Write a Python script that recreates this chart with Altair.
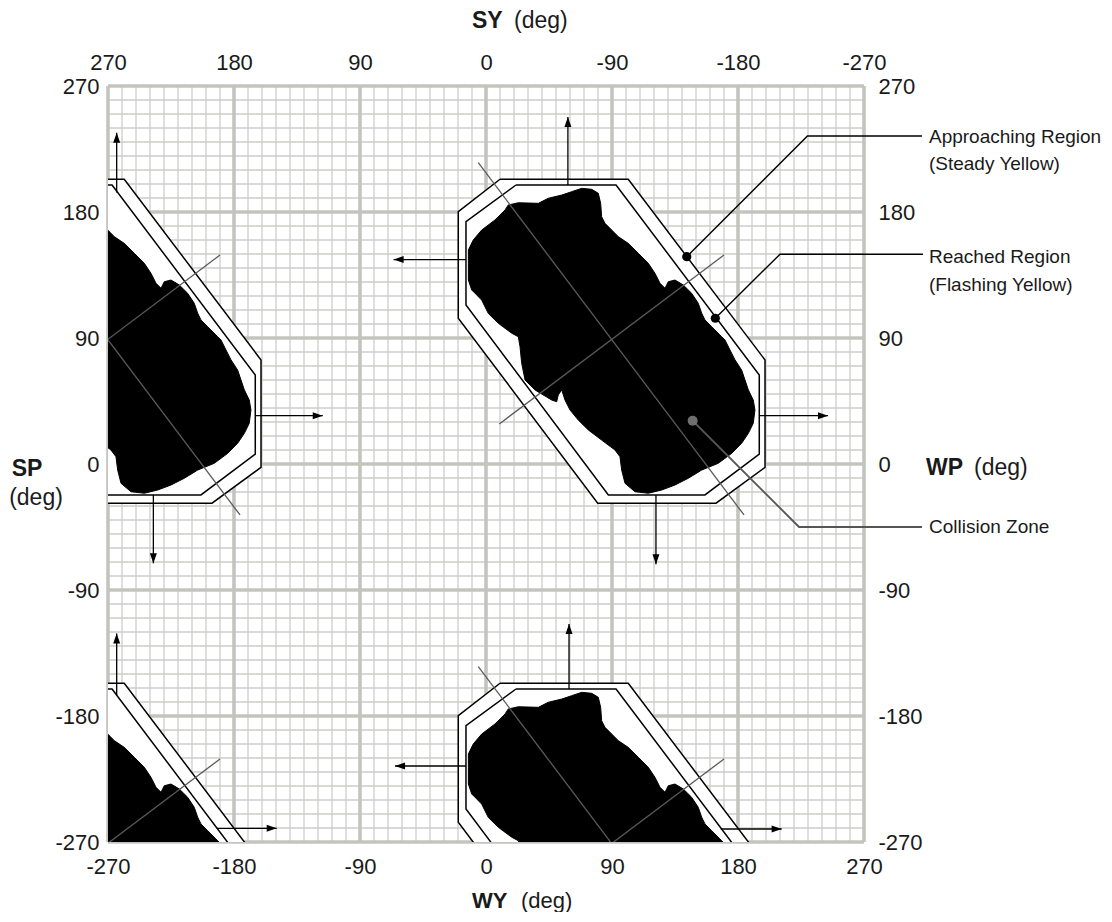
import altair as alt
import pandas as pd

# ---------------- data (degrees) ----------------
AXIS_TICKS = [-270, -180, -90, 0, 90, 180, 270]
MINOR_GRID = [v for v in range(-260, 270, 10) if v % 90 != 0]
MAJOR_GRID = [-270, -180, -90, 0, 90, 180, 270]

# centres (WY, WP) of the repeated collision pattern
CENTER_WY = [-270, 90, -270, 90]
CENTER_WP = [90, 90, -270, -270]

# Approaching region (outer octagon), offsets from centre
APPROACH_DX = [-80.0, 11.6, 109.3, 109.3, 74.3, -10.2, -109.8, -109.8]
APPROACH_DY = [113.4, 113.4, -15.7, -92.4, -118.0, -118.0, 14.1, 90.2]
# Reached region (inner octagon)
REACHED_DX = [-68.6, 2.9, 105.2, 105.2, 66.4, -2.6, -104.3, -104.3]
REACHED_DY = [109.3, 109.3, -26.4, -82.9, -112.1, -112.1, 23.6, 83.1]
# Collision zone outline
ZONE_DX = [-102.6, -102.6, -99.1, -93.1, -83.6, -76.4, -74.1, -66.9, -52.6, -45.5,
           -35.9, -28.8, -21.6, -14.5, -9.8, -8.1, -7.4, -5.0, 4.5, 11.6,
           18.8, 25.9, 30.7, 34.3, 37.9, 40.2, 45.0, 50.9, 56.9, 61.6,
           64.1, 66.4, 71.2, 78.4, 80.7, 84.3, 87.9, 92.6, 95.0, 97.4,
           100.9, 102.1, 100.9, 97.4, 92.6, 85.5, 75.9, 64.1, 54.5, 45.0,
           35.5, 25.9, 16.4, 9.3, 6.9, 5.7, 2.1, -7.4, -16.9, -24.1,
           -30.0, -33.6, -35.9, -38.4, -39.5, -43.1, -55.0, -62.1, -64.5, -65.7,
           -66.9, -71.6, -81.2, -88.4, -93.1, -96.6, -100.2, -102.6]
ZONE_DY = [53.4, 62.9, 70.0, 77.1, 84.3, 91.4, 95.0, 96.6, 96.2, 99.8,
           102.1, 104.5, 106.9, 106.2, 103.4, 96.2, 86.6, 81.9, 72.4, 67.6,
           60.5, 53.4, 46.2, 39.1, 35.5, 40.2, 41.4, 37.9, 31.9, 24.8,
           17.6, 12.9, 8.1, 0.9, -1.4, -8.6, -15.7, -22.9, -30.0, -37.1,
           -44.3, -51.4, -60.9, -68.1, -75.2, -82.4, -89.5, -94.3, -100.2, -105.0,
           -108.6, -110.9, -109.8, -103.8, -94.3, -84.8, -80.0, -72.9, -65.7, -58.6,
           -51.4, -44.3, -37.1, -40.7, -45.5, -44.3, -37.1, -30.0, -18.1, -6.2,
           0.9, 3.4, 10.5, 17.6, 27.1, 30.7, 34.3, 41.4]
# two diagonal reference lines through each centre
DIAG_DX1 = [-95.5, -80.5]
DIAG_DY1 = [125.2, -61.4]
DIAG_DX2 = [94.3, 80.0]
DIAG_DY2 = [-126.4, 59.3]

# arrows (tail -> tip), absolute degrees, with head direction
ARROW_X1 = [58.5, -14.3, 195.2, 121.4, -263.8, -164.8, -237.6, -263.8, -192.3, 59.3, -14.3, 167.7]
ARROW_Y1 = [199.3, 146.0, 34.5, -22.1, 194.0, 34.5, -22.1, -165.1, -260.2, -160.7, -215.7, -260.7]
ARROW_X2 = [58.5, -66.0, 244.3, 121.4, -263.8, -116.6, -237.6, -263.8, -149.5, 59.3, -65.0, 211.2]
ARROW_Y2 = [247.9, 146.0, 34.5, -71.6, 236.6, 34.5, -70.9, -121.0, -260.2, -114.3, -215.7, -260.7]
ARROW_ANGLE = [0, 270, 90, 180, 0, 90, 180, 0, 90, 0, 270, 90]

# call-outs
CALLOUT_NAME = ["approach", "approach", "approach", "reached", "reached", "reached",
                "zone", "zone", "zone"]
CALLOUT_X = [143.4, 229.6, 311.4, 163.8, 210.0, 312.1, 147.6, 223.6, 311.4]
CALLOUT_Y = [148.1, 234.3, 234.3, 104.1, 149.8, 149.8, 30.9, -45.0, -45.0]
LABEL_TEXT = ["Approaching Region", "(Steady Yellow)", "Reached Region",
              "(Flashing Yellow)", "Collision Zone"]
LABEL_X = [316.4, 316.4, 316.4, 316.4, 316.4]
LABEL_Y = [233.6, 214.3, 148.1, 127.9, -45.0]

# ---------------- tables ----------------
def polygons(name, dxs, dys):
    rows = []
    for k, (cx, cy) in enumerate(zip(CENTER_WY, CENTER_WP)):
        pts = list(zip(dxs, dys)) + [(dxs[0], dys[0])]
        for i, (dx, dy) in enumerate(pts):
            rows.append({"id": f"{name}{k}", "i": i, "x": cx + dx, "y": cy + dy})
    return pd.DataFrame(rows)

outer_df = polygons("outer", APPROACH_DX, APPROACH_DY)
inner_df = polygons("inner", REACHED_DX, REACHED_DY)
zone_df = polygons("zone", ZONE_DX, ZONE_DY)

diag_rows = []
for cx, cy in zip(CENTER_WY, CENTER_WP):
    for a, b, c, d in zip(DIAG_DX1, DIAG_DY1, DIAG_DX2, DIAG_DY2):
        diag_rows.append({"x": cx + a, "y": cy + b, "x2": cx + c, "y2": cy + d})
diag_df = pd.DataFrame(diag_rows)

arrow_df = pd.DataFrame({"x": ARROW_X1, "y": ARROW_Y1, "x2": ARROW_X2,
                         "y2": ARROW_Y2, "a": ARROW_ANGLE})
HEAD_BACK = 3.6
head_rows = []
for x2, y2, a in zip(ARROW_X2, ARROW_Y2, ARROW_ANGLE):
    dx = {0: 0, 90: -HEAD_BACK, 180: 0, 270: HEAD_BACK}[a]
    dy = {0: -HEAD_BACK, 90: 0, 180: HEAD_BACK, 270: 0}[a]
    head_rows.append({"x": x2 + dx, "y": y2 + dy, "a": a})
head_df = pd.DataFrame(head_rows)

callout_df = pd.DataFrame({"id": CALLOUT_NAME, "x": CALLOUT_X, "y": CALLOUT_Y,
                           "i": list(range(len(CALLOUT_X)))})
label_df = pd.DataFrame({"t": LABEL_TEXT, "x": LABEL_X, "y": LABEL_Y})

# ---------------- encodings ----------------
XS = alt.Scale(domain=[-270, 270], nice=False, zero=False)
YS = alt.Scale(domain=[-270, 270], nice=False, zero=False)


def X(f="x"):
    return alt.X(f"{f}:Q", scale=XS, axis=None)


def Y(f="y"):
    return alt.Y(f"{f}:Q", scale=YS, axis=None)


FONT = "Liberation Sans"
INK = "#1a1a1a"
MINOR_COLOR = "#cdcdc9"
MAJOR_COLOR = "#c4c4bf"

minor_x = alt.Chart(pd.DataFrame({"v": MINOR_GRID})).mark_rule(
    color=MINOR_COLOR, strokeWidth=1.3).encode(x=alt.X("v:Q", scale=XS, axis=None))
minor_y = alt.Chart(pd.DataFrame({"v": MINOR_GRID})).mark_rule(
    color=MINOR_COLOR, strokeWidth=1.3).encode(y=alt.Y("v:Q", scale=YS, axis=None))
major_x = alt.Chart(pd.DataFrame({"v": MAJOR_GRID})).mark_rule(
    color=MAJOR_COLOR, strokeWidth=3.6).encode(x=alt.X("v:Q", scale=XS, axis=None))
major_y = alt.Chart(pd.DataFrame({"v": MAJOR_GRID})).mark_rule(
    color=MAJOR_COLOR, strokeWidth=3.6).encode(y=alt.Y("v:Q", scale=YS, axis=None))

outer = alt.Chart(outer_df).mark_line(
    fill="white", stroke="black", strokeWidth=1.5, clip=True, strokeJoin="miter"
).encode(x=X(), y=Y(), order="i:Q", detail="id:N")
inner = alt.Chart(inner_df).mark_line(
    stroke="black", strokeWidth=1.5, clip=True, strokeJoin="miter"
).encode(x=X(), y=Y(), order="i:Q", detail="id:N")
zone = alt.Chart(zone_df).mark_line(
    fill="black", stroke="black", strokeWidth=1, clip=True, interpolate="linear"
).encode(x=X(), y=Y(), order="i:Q", detail="id:N")

diag = alt.Chart(diag_df).mark_rule(color="#5a5a5a", strokeWidth=1.3, clip=True).encode(
    x=X(), y=Y(), x2="x2:Q", y2="y2:Q")

shafts = alt.Chart(arrow_df).mark_rule(color="black", strokeWidth=1.3, clip=True).encode(
    x=X(), y=Y(), x2="x2:Q", y2="y2:Q")
heads = alt.Chart(head_df).mark_point(
    shape="M0,-1L0.7,1L-0.7,1Z", filled=True, color="black", opacity=1, size=100, clip=True
).encode(x=X(), y=Y(), angle=alt.Angle("a:Q", scale=None))

leader_black = alt.Chart(callout_df).transform_filter(
    alt.datum.id != "zone").mark_line(color="black", strokeWidth=1.4).encode(
    x=X(), y=Y(), order="i:Q", detail="id:N")
leader_grey = alt.Chart(callout_df).transform_filter(
    alt.datum.id == "zone").mark_line(color="#555555", strokeWidth=1.8).encode(
    x=X(), y=Y(), order="i:Q", detail="id:N")
dots_black = alt.Chart(callout_df).transform_filter(
    "datum.id != 'zone' && (datum.i % 3) == 0").mark_circle(
    color="black", opacity=1, size=85).encode(x=X(), y=Y())
dot_grey = alt.Chart(callout_df).transform_filter(
    "datum.id == 'zone' && (datum.i % 3) == 0").mark_circle(
    color="#6f6f6f", opacity=1, size=100).encode(x=X(), y=Y())

labels = alt.Chart(label_df).mark_text(
    align="left", baseline="middle", font=FONT, fontSize=19, color=INK
).encode(x=X(), y=Y(), text="t:N")


def title_piece(text, px, py, bold, align="left", size=23):
    return alt.Chart(pd.DataFrame({"t": [text]})).mark_text(
        align=align, baseline="middle", font=FONT, fontSize=size,
        fontWeight="bold" if bold else "normal", color=INK
    ).encode(x=alt.value(px), y=alt.value(py), text="t:N")


titles = [
    title_piece("SY", 364, -65, True),
    title_piece("(deg)", 406, -65, False),
    title_piece("WY", 364, 815, True, size=22),
    title_piece("(deg)", 413, 815, False, size=22),
    title_piece("SP", -81, 383, True, "center"),
    title_piece("(deg)", -72, 412, False, "center"),
    title_piece("WP", 818, 382, True),
    title_piece("(deg)", 866, 382, False),
]

axis_common = dict(values=AXIS_TICKS, labelExpr="'' + datum.value", title=None,
                   domain=False, ticks=False, grid=False, labelFont=FONT,
                   labelFontSize=22, labelColor=INK, labelFlush=False,
                   labelOverlap=False)
top_labels = "datum.value == 0 ? '0' : '' + (-datum.value)"

axis_df = pd.DataFrame({"x": AXIS_TICKS, "y": AXIS_TICKS})
axes_a = alt.Chart(axis_df).mark_point(opacity=0).encode(
    x=alt.X("x:Q", scale=XS, axis=alt.Axis(orient="bottom", labelPadding=14, **axis_common)),
    y=alt.Y("y:Q", scale=YS, axis=alt.Axis(orient="left", labelPadding=9, **axis_common)),
)
axis_top = dict(axis_common)
axis_top["labelExpr"] = top_labels
axes_b = alt.Chart(axis_df).mark_point(opacity=0).encode(
    x=alt.X("x:Q", scale=XS, axis=alt.Axis(orient="top", labelPadding=12, **axis_top)),
    y=alt.Y("y:Q", scale=YS, axis=alt.Axis(orient="right", labelPadding=14, **axis_common)),
)

chart = alt.layer(
    minor_x, minor_y, major_x, major_y,
    outer, inner, zone, diag, shafts, heads,
    leader_black, leader_grey, dots_black, dot_grey, labels,
    axes_a, axes_b, *titles
).resolve_axis(
    x="independent", y="independent"
).properties(
    width=756, height=756,
    autosize=alt.AutoSizeParams(type="none"),
    padding={"left": 100, "top": 78, "right": 240, "bottom": 70},
).configure_view(strokeWidth=0)

chart.save("out.html", embed_options={"renderer": "svg", "actions": False})
